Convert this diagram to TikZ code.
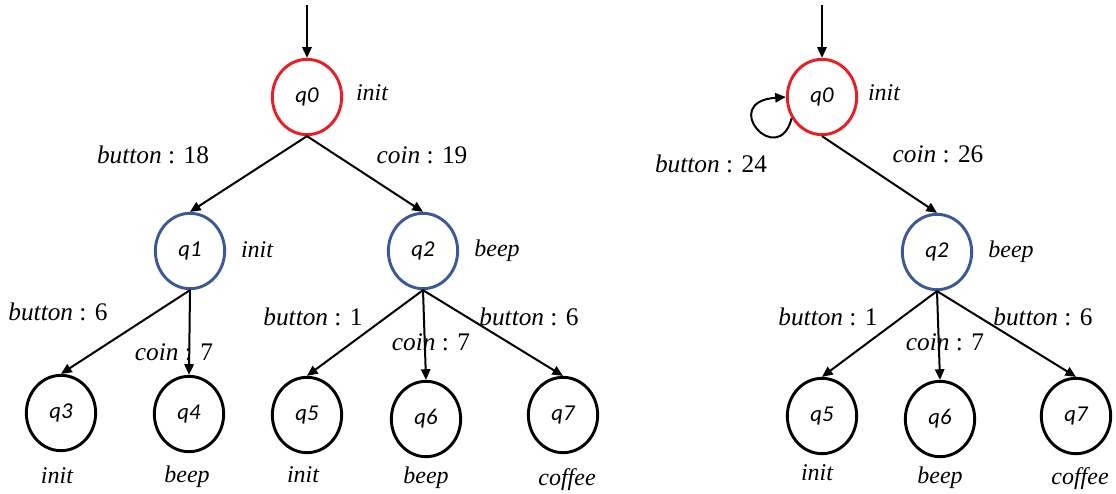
\documentclass[tikz,border=0pt]{standalone}
\usepackage{fontspec}
\setmainfont{Liberation Serif}
\newfontfamily\statefont{Carlito}
\usetikzlibrary{arrows.meta,shapes.geometric}
\definecolor{initred}{RGB}{236,28,36}
\definecolor{stateblue}{RGB}{59,89,152}
\tikzset{
  st/.style={ellipse, draw, line width=2.2pt, inner sep=0pt,
    minimum width=52pt, minimum height=56.5pt,
    font=\statefont\itshape\fontsize{17}{20}\selectfont},
  rootst/.style={st, draw=initred},
  midst/.style={st, draw=stateblue},
  leafst/.style={st, draw=black},
  tag/.style={anchor=base, inner sep=0pt, font=\itshape\fontsize{18}{20}\selectfont},
  lab/.style={anchor=base, inner sep=0pt, font=\fontsize{19}{21}\selectfont},
  edge/.style={-{Triangle[length=8pt,width=7pt]}, line width=1.5pt},
}
\begin{document}
\begin{tikzpicture}[x=0.75pt,y=-0.75pt]
\useasboundingbox (0,0) rectangle (1116,493);

% ---------- left tree ----------
\coordinate (s0) at (307,5);
\node[rootst] (q0) at (307,97) {q0};
\node[midst]  (q1) at (190,251) {q1};
\node[midst]  (q2) at (423,251) {q2};
\node[leafst] (q3) at (61,413) {q3};
\node[leafst] (q4) at (189,414) {q4};
\node[leafst] (q5) at (307,415) {q5};
\node[leafst] (q6) at (426,419) {q6};
\node[leafst] (q7) at (563,415) {q7};

\draw[edge] (s0) -- (q0.north);
\draw[edge] (q0.south) -- (q1.north);
\draw[edge] (q0.south) -- (q2.north);
\draw[edge] (q1.south) -- (q3.north);
\draw[edge] (q1.south) -- (q4.north);
\draw[edge] (q2.south) -- (q5.north);
\draw[edge] (q2.south) -- (q6.north);
\draw[edge] (q2.south) -- (q7.north);

\node[tag] (t0) at (372,100) {init};
\node[tag] (t1) at (257,257) {init};
\node[tag] (t2) at (497,256) {beep};
\node[tag] (t3) at (57,483) {init};
\node[tag] (t4) at (187,482) {beep};
\node[tag] (t5) at (303,482) {init};
\node[tag] (t6) at (426,483) {beep};
\node[tag] (t7) at (567,485) {coffee};

\node[lab] (l01) at (153,163) {\textit{button} : 18};
\node[lab] (l02) at (422,163) {\textit{coin} : 19};
\node[lab] (l13) at (58,320) {\textit{button} : 6};
\node[lab] (l14) at (174,360) {\textit{coin} : 7};
\node[lab] (l25) at (313,325) {\textit{button} : 1};
\node[lab] (l26) at (431,350) {\textit{coin} : 7};
\node[lab] (l27) at (529,325) {\textit{button} : 6};

% ---------- right tree ----------
\coordinate (s0r) at (822,5);
\node[rootst] (r0) at (822,97) {q0};
\node[midst]  (r2) at (937,252) {q2};
\node[leafst] (r5) at (822,416) {q5};
\node[leafst] (r6) at (940,419) {q6};
\node[leafst] (r7) at (1076,416) {q7};

\draw[edge] (s0r) -- (r0.north);
\draw[edge] (r0.215) .. controls (778,170) and (718,102) .. (r0.180);
\draw[edge] (r0.south) -- (r2.north);
\draw[edge] (r2.south) -- (r5.north);
\draw[edge] (r2.south) -- (r6.north);
\draw[edge] (r2.south) -- (r7.north);

\node[tag] (u0) at (884,100) {init};
\node[tag] (u2) at (1011,257) {beep};
\node[tag] (u5) at (817,480) {init};
\node[tag] (u6) at (940,483) {beep};
\node[tag] (u7) at (1080,484) {coffee};

\node[lab] (m00) at (711,172) {\textit{button} : 24};
\node[lab] (m02) at (938,162) {\textit{coin} : 26};
\node[lab] (m25) at (828,325) {\textit{button} : 1};
\node[lab] (m26) at (945,350) {\textit{coin} : 7};
\node[lab] (m27) at (1043,325) {\textit{button} : 6};
\end{tikzpicture}
\end{document}
